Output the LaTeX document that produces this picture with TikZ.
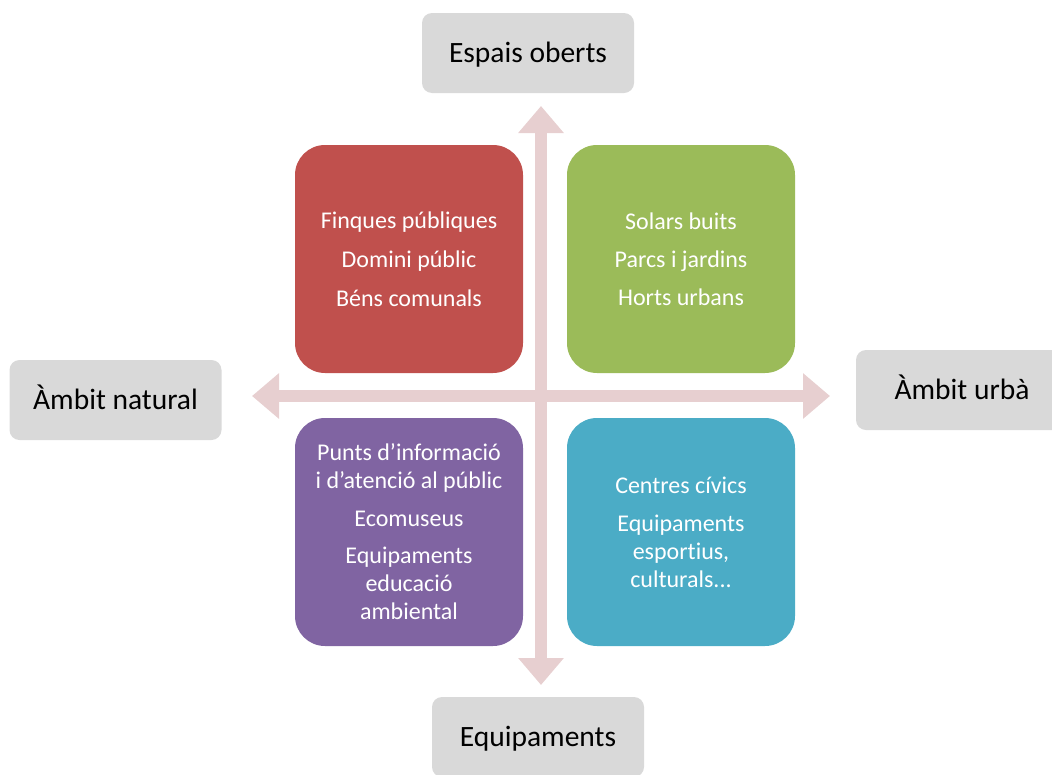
\documentclass[tikz,border=0pt]{standalone}
\usepackage{fontspec}
\setmainfont{Carlito}[Ligatures={NoCommon,NoContextual}]
\usetikzlibrary{arrows.meta}
\definecolor{qred}{HTML}{C0504D}
\definecolor{qgreen}{HTML}{9BBB59}
\definecolor{qpurple}{HTML}{8064A2}
\definecolor{qteal}{HTML}{4BACC6}
\definecolor{lblgray}{HTML}{D9D9D9}
\definecolor{arrowpink}{RGB}{231,207,208}
\begin{document}
\begin{tikzpicture}[x=1pt,y=-1pt,
  quad/.style={rounded corners=30pt, minimum width=228pt, minimum height=228pt, inner sep=0pt,
    text=white, align=center, font=\fontsize{24}{28}\selectfont},
  lbl/.style={fill=lblgray, rounded corners=10pt, minimum width=212pt, minimum height=80pt,
    inner sep=0pt, text=black, text height=25pt, text depth=6pt, font=\fontsize{29.5}{34}\selectfont},
  axis/.style={draw=arrowpink, fill=arrowpink, line width=12pt,
    {Triangle[width=44pt,length=27pt]}-{Triangle[width=44pt,length=27pt]}}]
\useasboundingbox (0,0) rectangle (1052,774);
\clip (0,0) rectangle (1052,774);
% axes
\coordinate (vtop) at (541,106);
\coordinate (vbot) at (541,685);
\coordinate (hleft) at (252,396);
\coordinate (hright) at (830,396);
\draw[axis] (vtop) -- (vbot);
\draw[axis] (hleft) -- (hright);
% quadrants
\node[quad, fill=qred] (fp) at (409,259) {Finques públiques\\[11pt]Domini públic\\[11pt]Béns comunals};
\node[quad, fill=qgreen] (sb) at (681,259) {Solars buits\\[10pt]Parcs i jardins\\[10pt]Horts urbans};
\node[quad, fill=qpurple] (pi) at (409,532) {Punts d’informació\\i d’atenció al públic\\[10pt]Ecomuseus\\[9pt]Equipaments\\educació\\ambiental};
\node[quad, fill=qteal] (cc) at (681,532) {Centres cívics\\[10pt]Equipaments\\esport\kern0pt ius,\\culturals.\kern0pt.\kern0pt.};
% labels
\node[lbl] (eo) at (528,53) {Espais oberts};
\node[lbl] (an) at (115.5,400) {Àmbit natural};
\node[lbl] (au) at (962,390) {Àmbit urbà};
\node[lbl] (eq) at (538,737) {Equipaments};
\end{tikzpicture}
\end{document}
